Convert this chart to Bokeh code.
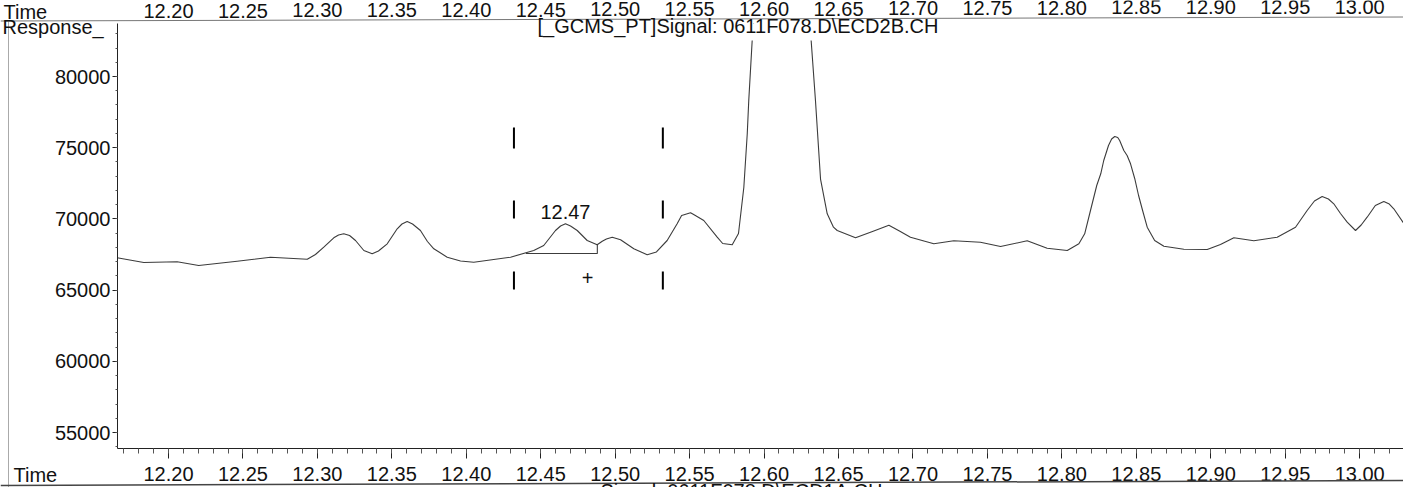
from bokeh.plotting import figure
from bokeh.models import (Range1d, LinearAxis, SingleIntervalTicker, PrintfTickFormatter,
                          Label, BoxAnnotation, ColumnDataSource)
from bokeh.embed import file_html
from bokeh.resources import INLINE

# ---------------- data ----------------
time_min = [12.1655, 12.1834, 12.2058, 12.2203, 12.2461, 12.2685, 12.2932, 12.2987, 12.3043,
            12.3110, 12.3142, 12.3177, 12.3216, 12.3256, 12.3312, 12.3368, 12.3410, 12.3469,
            12.3536, 12.3568, 12.3603, 12.3639, 12.3692, 12.3739, 12.3782, 12.3872, 12.3961,
            12.4050, 12.4297, 12.4453, 12.4520, 12.4599, 12.4633, 12.4666, 12.4700, 12.4745,
            12.4812, 12.4879, 12.4913, 12.4941, 12.4980, 12.5036, 12.5125, 12.5215, 12.5277,
            12.5349, 12.5416, 12.5446, 12.5506, 12.5527, 12.5595, 12.5685, 12.5722, 12.5786,
            12.5828, 12.5864, 12.5887, 12.5897, 12.5920, 12.5976, 12.6110, 12.6244, 12.6316,
            12.6345, 12.6379, 12.6424, 12.6466, 12.6491, 12.6614, 12.6728, 12.6838, 12.6909,
            12.6983, 12.7140, 12.7274, 12.7453, 12.7588, 12.7767, 12.7901, 12.8036, 12.8114,
            12.8153, 12.8192, 12.8234, 12.8261, 12.8281, 12.8313, 12.8334, 12.8355, 12.8375,
            12.8388, 12.8416, 12.8438, 12.8461, 12.8489, 12.8515, 12.8542, 12.8573, 12.8623,
            12.8685, 12.8819, 12.8976, 12.9065, 12.9155, 12.9289, 12.9446, 12.9569, 12.9647,
            12.9696, 12.9748, 12.9790, 12.9826, 12.9871, 12.9916, 12.9972, 13.0010, 13.0050,
            13.0105, 13.0162, 13.0199, 13.0229, 13.0294]
response = [67269, 66939, 66988, 66729, 67030, 67311, 67171, 67501, 68013,
            68673, 68870, 68954, 68835, 68484, 67782, 67550, 67747, 68252,
            69305, 69643, 69818, 69643, 69186, 68414, 67901, 67311, 67044,
            66960, 67311, 67782, 68133, 69186, 69502, 69657, 69502, 69186,
            68484, 68182, 68435, 68589, 68716, 68533, 67901, 67480, 67677,
            68484, 69657, 70240, 70429, 70310, 69888, 68716, 68273, 68182,
            68975, 72227, 75997, 78315, 82528, 90000, 95000, 90000, 82528,
            78315, 72800, 70359, 69418, 69186, 68673, 69116, 69558, 69151,
            68716, 68252, 68463, 68364, 68063, 68463, 67943, 67782, 68252,
            68954, 70591, 72346, 73168, 74102, 75155, 75611, 75787, 75717,
            75506, 74804, 74453, 73870, 72838, 71644, 70591, 69418, 68484,
            68084, 67873, 67852, 68203, 68673, 68463, 68716, 69418, 70591,
            71258, 71574, 71398, 71061, 70380, 69769, 69186, 69572, 70120,
            70942, 71223, 71047, 70710, 69713]

peak_rt_label = "12.47"
peak_rt = 12.4666
integration_start = 12.440
integration_end = 12.488
baseline_level = 67570
drop_top = 68182
event_marker_times = [12.432, 12.532]
event_marker_rows = [(74944, 76419), (70029, 71293), (65043, 66307)]
plus_time = 12.4814
plus_level = 65816

x_tick_values = [12.20, 12.25, 12.30, 12.35, 12.40, 12.45, 12.50, 12.55, 12.60,
                 12.65, 12.70, 12.75, 12.80, 12.85, 12.90, 12.95, 13.00]
title_text = "[_GCMS_PT]Signal: 0611F078.D\\ECD2B.CH"
next_title_text = "Signal: 0611F078.D\\ECD1A.CH"

# ---------------- geometry ----------------
X0, X1 = 12.16575, 13.02942
Y0, Y1 = 53878, 83722
W, H = 1403, 487
FL, FT = 117, 23
FB = 42
HM = 448 + FB          # main canvas height (frame bottom stays at y=448)
FW, FH = W - FL, 448 - FT
SHIFT = 7               # label baseline correction

def tx(px):
    return X0 + (px - FL) * (X1 - X0) / FW

def vy(py):
    return Y1 - (py - FT) * (Y1 - Y0) / FH

def vb(py):
    # response value that puts a label's baseline at pixel row py
    return vy(py - SHIFT)

FONT = "Liberation Sans"
FS = "20px"
TXT = "#111111"
TRACE = "#3c3c3c"
PIN = {"position": "absolute", "left": "0px", "top": "0px"}

# ---------------- main chromatogram ----------------
p = figure(width=W, height=HM, output_backend="svg", toolbar_location=None, title=None,
           x_range=Range1d(X0, X1), y_range=Range1d(Y0, Y1),
           x_axis_type=None, y_axis_type=None,
           min_border_left=FL, min_border_right=0, min_border_top=FT, min_border_bottom=FB)
p.outline_line_color = None
p.background_fill_color = "white"
p.border_fill_color = "white"
p.styles = dict(PIN, **{"z-index": "0"})

yaxis = LinearAxis(ticker=SingleIntervalTicker(interval=5000, num_minor_ticks=5))
yaxis.axis_line_color = "#222222"
yaxis.major_tick_out = 5
yaxis.major_tick_in = 0
yaxis.minor_tick_out = 2
yaxis.minor_tick_in = 0
yaxis.major_tick_line_color = "#222222"
yaxis.minor_tick_line_color = "#555555"
yaxis.major_label_standoff = 2
yaxis.major_label_text_font = FONT
yaxis.major_label_text_font_size = FS
yaxis.major_label_text_color = TXT
p.add_layout(yaxis, "left")

xaxis = LinearAxis(ticker=SingleIntervalTicker(interval=0.05, num_minor_ticks=5),
                   formatter=PrintfTickFormatter(format="%.2f"))
xaxis.axis_line_color = "#222222"
xaxis.major_tick_out = 10
xaxis.major_tick_in = 0
xaxis.minor_tick_out = 5
xaxis.minor_tick_in = 0
xaxis.major_tick_line_color = "#222222"
xaxis.minor_tick_line_color = "#555555"
xaxis.major_label_standoff = 8
xaxis.major_label_text_font = FONT
xaxis.major_label_text_font_size = FS
xaxis.major_label_text_color = TXT
p.add_layout(xaxis, "below")

src = ColumnDataSource(dict(t=time_min, r=response))
p.line("t", "r", source=src, line_color=TRACE, line_width=1.1, line_join="round")

# integration baseline and drop line
p.line([integration_start, integration_end, integration_end],
       [baseline_level, baseline_level, drop_top], line_color=TRACE, line_width=1.1)

# integration event markers
mx0, my0, mx1, my1 = [], [], [], []
for t in event_marker_times:
    for lo, hi in event_marker_rows:
        mx0.append(t); mx1.append(t); my0.append(lo); my1.append(hi)
p.segment(mx0, my0, mx1, my1, line_color="black", line_width=2)

p.add_layout(Label(x=peak_rt, y=vb(218), text=peak_rt_label, text_align="center",
                   text_baseline="alphabetic", text_font=FONT, text_font_size=FS,
                   text_color=TXT))
p.add_layout(Label(x=plus_time, y=plus_level, text="+", text_align="center",
                   text_baseline="middle", text_font=FONT, text_font_size=FS,
                   text_color=TXT))

# ---------------- overlay for the page texts around the frame ----------------
ov = figure(width=W, height=H, output_backend="svg", toolbar_location=None, title=None,
            x_range=Range1d(tx(0), tx(W)), y_range=Range1d(vy(H), vy(0)),
            x_axis_type=None, y_axis_type=None,
            min_border_left=0, min_border_right=0, min_border_top=0, min_border_bottom=0)
ov.outline_line_color = None
ov.background_fill_alpha = 0
ov.border_fill_alpha = 0
ov.styles = dict(PIN, **{"z-index": "1"})

# white box behind the title hides the off-scale peak top
ov.add_layout(BoxAnnotation(left=tx(530), right=tx(950), bottom=vy(40), top=vy(FT),
                            fill_color="white", fill_alpha=1.0, line_alpha=0))
ov.add_layout(Label(x=tx(537), y=vb(32), text=title_text, text_align="left",
                    text_baseline="alphabetic", text_font=FONT, text_font_size=FS,
                    text_color=TXT))
ov.add_layout(Label(x=tx(2), y=vb(33), text="Response_", text_align="left",
                    text_baseline="alphabetic", text_font=FONT, text_font_size=FS,
                    text_color=TXT))

# axis of the chromatogram printed above on the same page
ov.add_layout(Label(x=tx(3), y=vb(18), text="Time", text_align="left",
                    text_baseline="alphabetic", text_font=FONT, text_font_size=FS,
                    text_color=TXT))
for tv in x_tick_values:
    px = FL + (tv - X0) / (X1 - X0) * FW
    base = 18 - 5 * px / W
    ov.add_layout(Label(x=tv, y=vb(base), text="%.2f" % tv, text_align="center",
                        text_baseline="alphabetic", text_font=FONT, text_font_size=FS,
                        text_color=TXT))
ov.add_layout(Label(x=tx(13), y=vb(481), text="Time", text_align="left",
                    text_baseline="alphabetic", text_font=FONT, text_font_size=FS,
                    text_color=TXT))
ov.add_layout(Label(x=tx(741), y=vb(497), text=next_title_text, text_align="center",
                    text_baseline="alphabetic", text_font=FONT, text_font_size=FS,
                    text_color=TXT))

# page frame lines
ov.line([tx(0), tx(W)], [vy(20.5), vy(16.5)], line_color="#777777", line_width=1)
ov.line([tx(8), tx(8)], [vy(20), vy(H)], line_color="#aaaaaa", line_width=1)
ov.line([tx(0), tx(W)], [vy(485), vy(480)], line_color="#444444", line_width=1.5)

open("out.html", "w").write(file_html([p, ov], INLINE))
